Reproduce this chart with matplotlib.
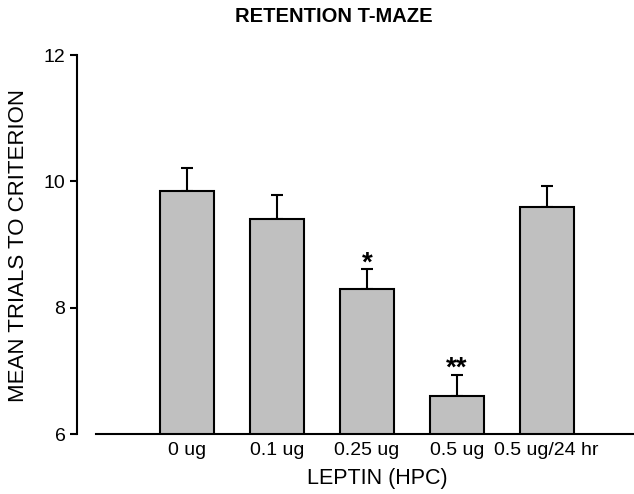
import matplotlib.pyplot as plt
import numpy as np

plt.rcParams["font.family"] = ["Liberation Sans", "DejaVu Sans"]

groups = ["0 ug", "0.1 ug", "0.25 ug", "0.5 ug", "0.5 ug/24 hr"]
means = [9.85, 9.40, 8.29, 6.60, 9.60]
sems = [0.36, 0.39, 0.32, 0.34, 0.32]
marks = ["", "", "*", "**", ""]

x = np.arange(len(groups))

fig = plt.figure(figsize=(6.34, 4.94), dpi=100)
ax = fig.add_axes([96 / 634, 60 / 494, 538 / 634, 379 / 494])

ax.bar(x, means, width=0.6, color="#c0c0c0", edgecolor="black",
       linewidth=1.5, zorder=2)
ax.errorbar(x, means, yerr=[np.zeros(len(x)), sems], fmt="none",
            ecolor="black", elinewidth=1.5, capsize=4.5, capthick=1.5,
            zorder=1)
for xi, m, s, t in zip(x, means, sems, marks):
    if t:
        ax.text(xi, m + s + 0.30, t, ha="center", va="top",
                fontsize=20, fontweight="bold")

ax.set_xlim(-1.01, 4.97)
ax.set_ylim(6, 12)
ax.set_yticks([6, 8, 10, 12])
ax.set_xticks(x)
ax.set_xticklabels(groups, fontsize=14)
ax.tick_params(axis="x", length=0, pad=6)
ax.tick_params(axis="y", length=5, width=1.5, labelsize=14, pad=3)

for side in ("top", "right"):
    ax.spines[side].set_visible(False)
ax.spines["left"].set_position(("outward", 14))
ax.spines["left"].set_linewidth(1.5)
ax.spines["bottom"].set_linewidth(1.5)

fig.text(19 / 634, 1 - 245 / 494, "MEAN TRIALS TO CRITERION", rotation=90,
         ha="center", va="center", fontsize=16)
fig.text(377 / 634, 1 - 478 / 494, "LEPTIN (HPC)", ha="center",
         va="center", fontsize=15.5)
fig.text(334 / 634, 1 - 17 / 494, "RETENTION T-MAZE", ha="center",
         va="center", fontsize=14.5, fontweight="bold")

fig.savefig("out.png", dpi=100)
